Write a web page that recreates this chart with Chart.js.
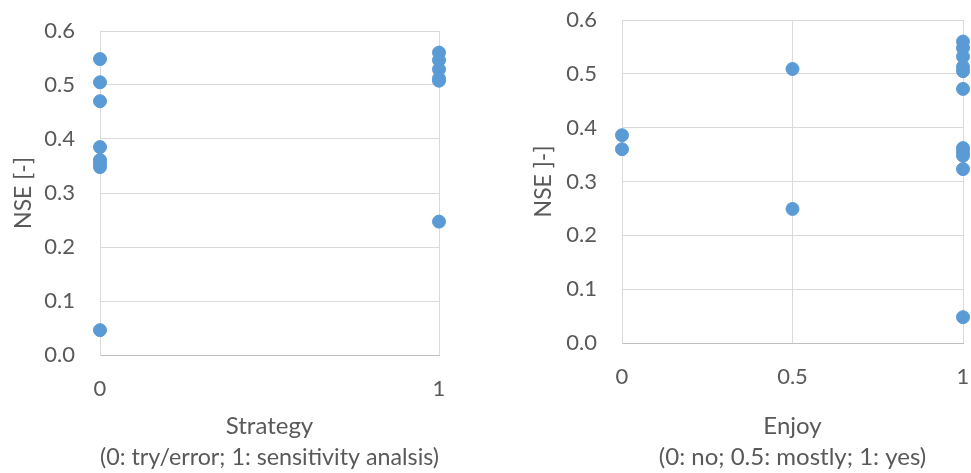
<!DOCTYPE html>
<html>
<head>
<meta charset="utf-8">
<script src="https://cdn.jsdelivr.net/npm/chart.js@4/dist/chart.umd.min.js"></script>
<style>
    html, body { margin: 0; padding: 0; background: #fff; }
    #wrap { position: relative; width: 971px; height: 473px; overflow: hidden; }
    .box { position: absolute; top: 0; height: 473px; }
    #box_left { left: 0; width: 480px; }
    #box_right { left: 480px; width: 491px; }
</style>
</head>
<body>
<div id="wrap">
    <div class="box" id="box_left"><canvas id="strategy_chart"></canvas></div>
    <div class="box" id="box_right"><canvas id="enjoy_chart"></canvas></div>
</div>
<script>
// NSE values per group
const strategyTryError = [0.548, 0.505, 0.470, 0.385, 0.361, 0.355, 0.348, 0.046];
const strategySensitivity = [0.560, 0.546, 0.529, 0.512, 0.508, 0.247];

const enjoyNo = [0.386, 0.360];
const enjoyMostly = [0.509, 0.249];
const enjoyYes = [0.560, 0.548, 0.532, 0.513, 0.505, 0.472, 0.362, 0.355, 0.348, 0.323, 0.048];

const strategyTicks = [0, 1];
const enjoyTicks = [0, 0.5, 1];
const nseTicks = [0, 0.1, 0.2, 0.3, 0.4, 0.5, 0.6];

const textColor = '#595959';
const gridColor = '#d9d9d9';
const pointColor = '#5b9bd5';
const fontFamily = 'Lato, "Open Sans", sans-serif';

function toPoints(x, values) {
    return values.map(v => ({ x: x, y: v }));
}

function makeChart(canvasId, cfg) {
    const ctx = document.getElementById(canvasId).getContext('2d');
    return new Chart(ctx, {
        type: 'scatter',
        data: {
            datasets: [{
                data: cfg.points,
                backgroundColor: pointColor,
                borderColor: pointColor,
                pointRadius: 6.5,
                pointHoverRadius: 6.5,
                clip: false
            }]
        },
        options: {
            responsive: true,
            maintainAspectRatio: false,
            animation: false,
            layout: { padding: cfg.padding, autoPadding: false },
            plugins: { legend: { display: false }, tooltip: { enabled: false } },
            scales: {
                x: {
                    type: 'linear',
                    min: 0,
                    max: 1,
                    afterBuildTicks: axis => { axis.ticks = cfg.xTicks.map(v => ({ value: v })); },
                    afterFit: axis => {
                        axis.height = cfg.xHeight;
                        axis.paddingLeft = 0;
                        axis.paddingRight = 0;
                    },
                    grid: {
                        color: ctx => ctx.tick && ctx.tick.value === 0 ? 'rgba(0,0,0,0)' : gridColor,
                        drawTicks: false
                    },
                    border: { color: '#bfbfbf' },
                    ticks: {
                        color: textColor,
                        padding: 21,
                        font: { family: fontFamily, size: 22 },
                        callback: v => String(v)
                    },
                    title: {
                        display: true,
                        text: cfg.xTitle,
                        color: textColor,
                        font: { family: fontFamily, size: 24, lineHeight: 1.3 },
                        padding: { top: 0, bottom: 0 }
                    }
                },
                y: {
                    type: 'linear',
                    min: 0,
                    max: 0.6,
                    afterBuildTicks: axis => { axis.ticks = nseTicks.map(v => ({ value: v })); },
                    afterFit: axis => {
                        axis.width = cfg.yWidth;
                        axis.paddingTop = 0;
                        axis.paddingBottom = 0;
                    },
                    grid: { color: gridColor, drawTicks: false },
                    border: { color: gridColor },
                    ticks: {
                        color: textColor,
                        padding: 25,
                        font: { family: fontFamily, size: 22 },
                        callback: v => v.toFixed(1)
                    },
                    title: {
                        display: true,
                        text: cfg.yTitle,
                        color: textColor,
                        font: { family: fontFamily, size: 23, lineHeight: 1.35 },
                        padding: { top: cfg.yTitlePad, bottom: 0 }
                    }
                }
            }
        }
    });
}

makeChart('strategy_chart', {
    points: toPoints(0, strategyTryError).concat(toPoints(1, strategySensitivity)),
    xTicks: strategyTicks,
    xTitle: ['Strategy', '(0: try/error; 1: sensitivity analsis)'],
    yTitle: 'NSE [-]',
    yTitlePad: 8,
    yWidth: 100,
    xHeight: 118,
    padding: { top: 31, right: 41, bottom: 0, left: 0 }
});

makeChart('enjoy_chart', {
    points: toPoints(0, enjoyNo).concat(toPoints(0.5, enjoyMostly), toPoints(1, enjoyYes)),
    xTicks: enjoyTicks,
    xTitle: ['Enjoy', '(0: no; 0.5: mostly; 1: yes)'],
    yTitle: 'NSE ]-]',
    yTitlePad: 48,
    yWidth: 142,
    xHeight: 130,
    padding: { top: 20, right: 8, bottom: 0, left: 0 }
});
</script>
</body>
</html>
